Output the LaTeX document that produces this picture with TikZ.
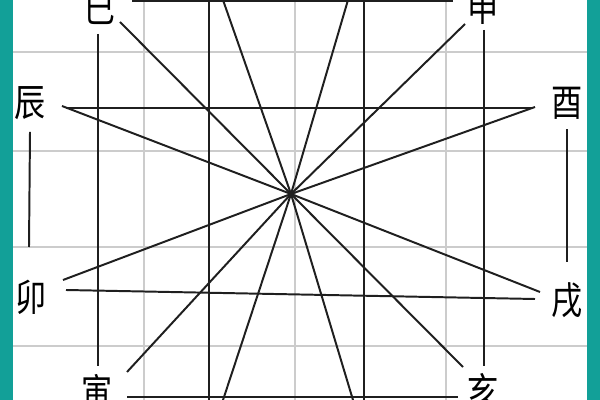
\documentclass[tikz,border=0pt]{standalone}
\usepackage{fontspec}
\newfontfamily\cjk{Noto Sans CJK SC}
\definecolor{frameteal}{RGB}{18,160,152}
\tikzset{
  branch/.style={font=\cjk\fontsize{27}{27}\selectfont,inner sep=0pt,xscale=0.82},
  stroke/.style={line width=1.4pt,black!88},
  gridline/.style={line width=1pt,black!20},
}

\begin{document}
\begin{tikzpicture}[x=0.025cm,y=-0.025cm]

    \useasboundingbox (0,0) rectangle (600,400);

    % side frame
    \fill[frameteal] (0,0) rectangle (13,400);
    \fill[frameteal] (587,0) rectangle (600,400);

    % paper grid
    \foreach \gx in {144,295,446}
        \draw[gridline] (\gx,0) -- (\gx,400);
    \foreach \gy in {52,151,247,346}
        \draw[gridline] (13,\gy) -- (587,\gy);

    %%%%%%%%%%%%%%%%%%%%%%%%%%%%%%%%%%%%%%%%%%%%%%%%%%%%%%

    % branch labels
    \node[branch] (si) at (100,9) {巳};
    \node[branch] (shen) at (483,7) {申};
    \node[branch] (chen) at (30,103) {辰};
    \node[branch] (you) at (567,103) {酉};
    \node[branch] (mao) at (31,297) {卯};
    \node[branch] (xu) at (567,300) {戌};
    \node[branch] (yin) at (97,392) {寅};
    \node[branch] (hai) at (483,391) {亥};

    %%%%%%%%%%%%%%%%%%%%%%%%%%%%%%%%%%%%%%%%%%%%%%%%%%%%%%

    % crossing point
    \coordinate (hub) at (291,194);

    % ends of the rays
    \coordinate (si-tip) at (120,22);
    \coordinate (shen-tip) at (465,24);
    \coordinate (chen-tip) at (62,106);
    \coordinate (you-tip) at (535,107);
    \coordinate (mao-tip) at (63,280);
    \coordinate (xu-tip) at (540,292);
    \coordinate (yin-tip) at (127,372);
    \coordinate (hai-tip) at (463,367);
    \coordinate (top-l) at (223,0);
    \coordinate (top-r) at (348,0);
    \coordinate (bot-l) at (223,400);
    \coordinate (bot-r) at (353,400);

    % rays through the crossing point
    \foreach \tip in {si,shen,chen,you,mao,xu,yin,hai}
        \draw[stroke] (hub) -- (\tip-tip);
    \foreach \tip in {top-l,top-r,bot-l,bot-r}
        \draw[stroke] (hub) -- (\tip);

    %%%%%%%%%%%%%%%%%%%%%%%%%%%%%%%%%%%%%%%%%%%%%%%%%%%%%%

    % horizontal strokes
    \coordinate (h1a) at (132,1);   \coordinate (h1b) at (453,1);
    \coordinate (h2a) at (66,108);  \coordinate (h2b) at (533,108);
    \coordinate (h3a) at (66,290);  \coordinate (h3b) at (535,299);
    \coordinate (h4a) at (127,397); \coordinate (h4b) at (458,397);
    \foreach \h in {1,2,3,4}
        \draw[stroke] (h\h a) -- (h\h b);

    % vertical strokes
    \coordinate (v1a) at (98,34);   \coordinate (v1b) at (98,366);
    \coordinate (v2a) at (209,0);   \coordinate (v2b) at (209,400);
    \coordinate (v3a) at (364,0);   \coordinate (v3b) at (364,400);
    \coordinate (v4a) at (484,30);  \coordinate (v4b) at (484,366);
    \foreach \v in {1,2,3,4}
        \draw[stroke] (v\v a) -- (v\v b);

    % short bars under chen and you
    \draw[stroke] (chen.south) ++(0,12) coordinate (chen-bar) -- (29,247);
    \draw[stroke] (you.south) ++(0,10) coordinate (you-bar) -- (567,262);

\end{tikzpicture}
\end{document}
